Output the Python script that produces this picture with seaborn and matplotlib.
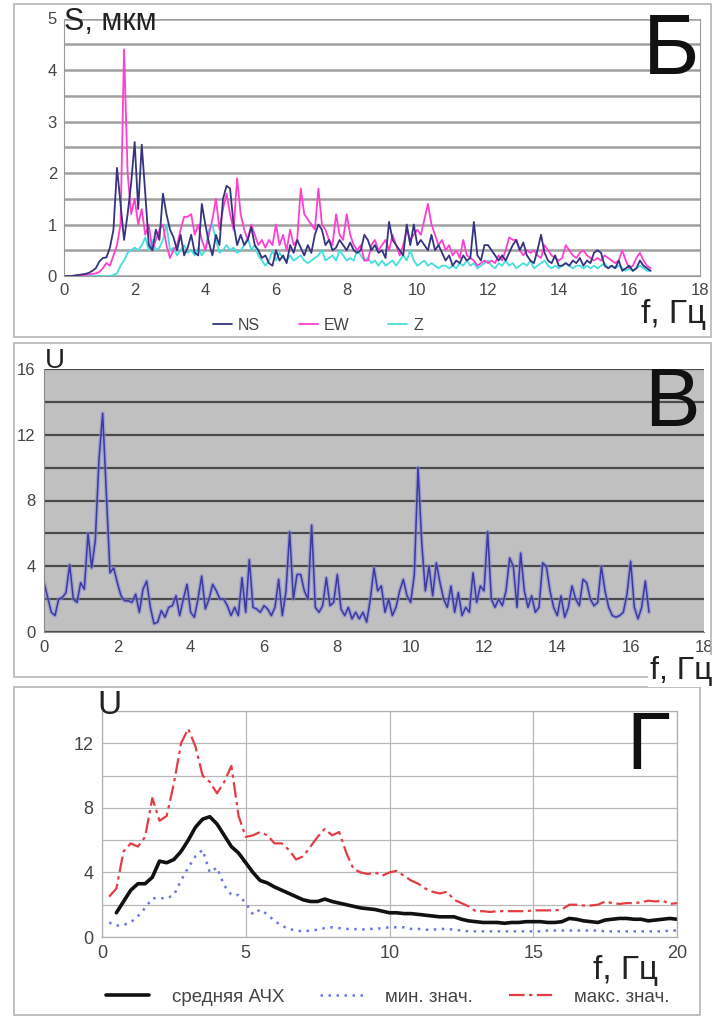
import numpy as np
import pandas as pd
import matplotlib
matplotlib.use("Agg")
import matplotlib.pyplot as plt
import seaborn as sns
from matplotlib.patches import Rectangle
from matplotlib.lines import Line2D
from matplotlib.ticker import MultipleLocator

sns.set_style("white")
plt.rcParams['font.family'] = ['Liberation Sans', 'DejaVu Sans']

# ---------------- Panel Б : spectra S (мкм), step 0.1 Hz from 0 ----------------
ns = [0, 0, 0, 0.01, 0.02, 0.03, 0.04, 0.06, 0.1, 0.15,
      0.28, 0.35, 0.36, 0.55, 0.9, 2.1, 1.4, 0.7, 1.2, 1.8,
      2.6, 1.3, 2.55, 1.6, 0.6, 0.5, 0.9, 0.7, 1.6, 1.2,
      0.9, 0.75, 0.5, 0.8, 0.4, 0.55, 0.8, 0.45, 0.4, 1.4,
      1.0, 0.65, 0.4, 0.8, 0.6, 1.5, 1.75, 1.7, 1.0, 0.6,
      0.8, 0.6, 0.7, 0.95, 0.6, 0.5, 0.35, 0.4, 0.25, 0.2,
      0.5, 0.3, 0.4, 0.25, 0.6, 0.45, 0.7, 0.55, 0.4, 0.6,
      0.45, 0.8, 1.0, 0.9, 0.6, 0.7, 0.5, 0.55, 0.7, 0.6,
      0.5, 0.65, 0.5, 0.45, 0.5, 0.8, 0.7, 0.5, 0.6, 0.45,
      0.5, 0.35, 1.05, 0.7, 0.6, 0.5, 0.4, 1.0, 0.6, 1.0,
      0.6, 0.7, 0.6, 0.5, 0.8, 0.5, 0.6, 0.45, 0.3, 0.4,
      0.2, 0.3, 0.25, 0.4, 0.3, 0.35, 1.05, 0.4, 0.3, 0.6,
      0.6, 0.5, 0.4, 0.3, 0.4, 0.3, 0.45, 0.6, 0.7, 0.5,
      0.65, 0.4, 0.3, 0.25, 0.5, 0.8, 0.45, 0.3, 0.25, 0.4,
      0.2, 0.2, 0.25, 0.2, 0.3, 0.25, 0.35, 0.2, 0.3, 0.25,
      0.45, 0.5, 0.45, 0.2, 0.15, 0.2, 0.15, 0.3, 0.1, 0.15,
      0.2, 0.1, 0.15, 0.3, 0.2, 0.15, 0.1]
ew = [0, 0, 0, 0, 0, 0.01, 0.02, 0.03, 0.04, 0.05,
      0.08, 0.15, 0.25, 0.2, 0.4, 0.6, 1.0, 4.4, 2.0, 1.2,
      1.5, 1.0, 1.3, 0.8, 1.0, 0.5, 0.7, 0.9, 1.0, 0.6,
      0.35, 0.5, 0.6, 0.9, 1.15, 1.15, 1.2, 0.8, 1.0, 0.7,
      0.5, 0.8, 1.1, 1.5, 0.9, 1.3, 1.6, 1.2, 0.9, 1.9,
      1.2, 0.9, 0.7, 1.0, 0.8, 0.6, 0.7, 0.55, 0.7, 0.6,
      1.0, 0.6, 0.8, 0.5, 0.9, 0.6, 0.7, 1.7, 1.2, 1.1,
      1.0, 0.9, 1.7, 1.0, 0.9, 0.7, 0.6, 1.2, 0.8, 0.7,
      1.2, 0.8, 0.6, 0.5, 0.6, 0.3, 0.3, 0.6, 0.7, 0.5,
      0.6, 0.7, 0.5, 0.8, 0.6, 0.4, 0.6, 0.9, 0.7, 0.8,
      0.9, 0.8, 1.1, 1.4, 1.0, 0.8, 0.6, 0.7, 0.5, 0.6,
      0.4, 0.5, 0.35, 0.7, 0.4, 0.35, 0.3, 0.2, 0.25, 0.3,
      0.25, 0.3, 0.25, 0.4, 0.3, 0.5, 0.75, 0.7, 0.7, 0.5,
      0.4, 0.5, 0.45, 0.5, 0.4, 0.35, 0.6, 0.5, 0.4, 0.35,
      0.3, 0.35, 0.6, 0.5, 0.4, 0.35, 0.45, 0.5, 0.4, 0.35,
      0.3, 0.35, 0.3, 0.4, 0.35, 0.3, 0.25, 0.3, 0.5, 0.3,
      0.15, 0.2, 0.35, 0.45, 0.3, 0.2, 0.15]
zc = [0, 0, 0, 0, 0, 0, 0, 0, 0, 0,
      0, 0, 0, 0, 0.02, 0.05, 0.2, 0.3, 0.45, 0.5,
      0.55, 0.5, 0.6, 0.75, 0.5, 0.7, 0.5, 0.55, 0.7, 1.0,
      0.5, 0.55, 0.4, 0.5, 0.6, 0.45, 0.5, 0.4, 0.55, 0.4,
      0.5, 0.9, 1.0, 0.7, 0.45, 0.5, 0.6, 0.5, 0.55, 0.45,
      0.5, 0.6, 0.75, 0.5, 0.6, 0.4, 0.3, 0.2, 0.3, 0.5,
      0.3, 0.45, 0.35, 0.3, 0.4, 0.3, 0.35, 0.4, 0.3, 0.25,
      0.3, 0.35, 0.4, 0.5, 0.3, 0.35, 0.4, 0.3, 0.5, 0.4,
      0.3, 0.35, 0.3, 0.5, 0.4, 0.3, 0.35, 0.25, 0.3, 0.2,
      0.3, 0.2, 0.25, 0.3, 0.2, 0.3, 0.4, 0.3, 0.5, 0.3,
      0.2, 0.25, 0.3, 0.2, 0.25, 0.2, 0.15, 0.2, 0.2, 0.15,
      0.2, 0.15, 0.25, 0.2, 0.3, 0.2, 0.25, 0.15, 0.2, 0.25,
      0.3, 0.2, 0.15, 0.25, 0.2, 0.3, 0.2, 0.25, 0.15, 0.2,
      0.25, 0.2, 0.3, 0.15, 0.2, 0.25, 0.3, 0.2, 0.15, 0.2,
      0.15, 0.2, 0.25, 0.2, 0.15, 0.2, 0.2, 0.15, 0.2, 0.15,
      0.2, 0.15, 0.2, 0.25, 0.15, 0.2, 0.15, 0.2, 0.15, 0.1,
      0.15, 0.1, 0.15, 0.2, 0.15, 0.1, 0.1]
b_labels = ["NS", "EW", "Z"]
b_colors = ["#34347f", "#ff3fd0", "#45dede"]

# ---------------- Panel В : U, step 0.1 Hz from 0 ----------------
u_v = [3.0, 2.1, 1.2, 1.0, 2.0, 2.1, 2.4, 4.1, 2.0, 1.8,
       3.0, 2.6, 6.0, 3.9, 5.6, 10.5, 13.3, 8.5, 3.6, 3.9,
       3.0, 2.2, 1.9, 1.9, 1.8, 2.3, 1.2, 2.6, 3.1, 1.5,
       0.5, 0.6, 1.3, 0.9, 1.5, 1.6, 2.2, 1.0, 2.0, 2.9,
       1.2, 0.9, 2.0, 3.4, 1.4, 2.0, 2.9, 2.5, 2.0, 2.0,
       1.6, 1.0, 1.5, 1.0, 3.3, 1.2, 4.4, 1.5, 1.4, 1.2,
       1.6, 1.4, 1.0, 1.5, 3.2, 1.0, 2.5, 6.1, 2.0, 3.5,
       3.5, 2.5, 2.0, 6.5, 1.5, 1.2, 1.6, 3.3, 1.6, 1.8,
       3.5, 1.4, 1.0, 1.5, 0.8, 1.2, 0.8, 1.2, 0.6, 2.0,
       3.9, 2.5, 2.8, 1.2, 2.0, 1.0, 1.5, 2.5, 3.2, 2.2,
       1.8, 3.5, 10.0, 5.5, 2.5, 4.0, 2.2, 4.2, 3.0, 2.0,
       1.5, 2.8, 1.2, 2.4, 1.0, 1.5, 1.2, 3.6, 1.8, 2.8,
       2.5, 6.1, 2.0, 1.5, 2.0, 1.6, 2.5, 4.5, 4.0, 1.5,
       4.8, 2.5, 1.5, 2.2, 1.2, 1.5, 4.2, 4.0, 2.5, 1.5,
       1.0, 2.2, 0.9, 1.5, 2.8, 2.0, 1.6, 3.2, 3.0, 2.0,
       1.6, 1.8, 4.0, 2.5, 1.5, 1.0, 0.9, 1.0, 1.2, 2.3,
       4.3, 1.5, 0.8, 1.5, 3.1, 1.2]

# ---------------- Panel Г : averaged response, step 0.25 Hz from 0.25 ----------------
g_mean = [np.nan, 1.5, 2.2, 2.9, 3.3, 3.3, 3.7, 4.7,
          4.6, 4.8, 5.3, 6.0, 6.8, 7.3, 7.45, 7.0,
          6.3, 5.6, 5.2, 4.6, 4.0, 3.5, 3.35, 3.1,
          2.9, 2.7, 2.5, 2.3, 2.2, 2.2, 2.35, 2.2,
          2.1, 2.0, 1.9, 1.8, 1.75, 1.7, 1.6, 1.5,
          1.5, 1.45, 1.45, 1.4, 1.35, 1.3, 1.25, 1.25,
          1.25, 1.1, 1.0, 0.95, 0.9, 0.9, 0.9, 0.85,
          0.9, 0.9, 0.95, 0.95, 0.95, 0.9, 0.9, 0.95,
          1.15, 1.1, 1.0, 0.95, 0.9, 1.05, 1.1, 1.15,
          1.15, 1.1, 1.1, 1.0, 1.05, 1.1, 1.15, 1.1]
g_min = [0.9, 0.7, 0.75, 0.9, 1.3, 1.8, 2.4, 2.4,
         2.4, 2.6, 3.5, 4.3, 5.0, 5.4, 4.0, 4.3,
         3.2, 2.6, 2.6, 2.1, 1.4, 1.7, 1.4, 1.0,
         0.7, 0.5, 0.4, 0.35, 0.4, 0.45, 0.55, 0.6,
         0.55, 0.5, 0.5, 0.45, 0.5, 0.5, 0.55, 0.6,
         0.6, 0.6, 0.5, 0.5, 0.45, 0.45, 0.5, 0.5,
         0.45, 0.4, 0.35, 0.35, 0.35, 0.35, 0.35, 0.35,
         0.35, 0.35, 0.35, 0.35, 0.35, 0.4, 0.4, 0.4,
         0.4, 0.4, 0.4, 0.4, 0.4, 0.35, 0.35, 0.35,
         0.35, 0.35, 0.35, 0.35, 0.35, 0.35, 0.4, 0.4]
g_max = [2.5, 3.0, 5.3, 5.8, 5.6, 6.2, 8.6, 7.2,
         7.5, 9.5, 12.0, 12.9, 11.8, 10.0, 9.6, 8.9,
         9.6, 10.6, 7.5, 6.2, 6.3, 6.5, 6.3, 5.8,
         5.8, 5.4, 4.8, 5.0, 5.6, 6.2, 6.7, 6.3,
         6.5, 5.2, 4.2, 4.0, 3.9, 4.0, 3.8, 4.0,
         4.1, 3.8, 3.5, 3.3, 3.0, 2.8, 2.7, 2.8,
         2.3, 2.1, 1.9, 1.6, 1.6, 1.55, 1.6, 1.6,
         1.6, 1.6, 1.6, 1.65, 1.65, 1.65, 1.65, 1.7,
         2.0, 2.0, 1.95, 1.95, 2.0, 2.2, 2.1, 2.05,
         2.1, 2.1, 2.15, 2.25, 2.2, 2.25, 2.05, 2.1]
g_labels = ["средняя АЧХ", "мин. знач.", "макс. знач."]

freq_b = np.round(np.arange(len(ns)) * 0.1, 2)
freq_v = np.round(np.arange(len(u_v)) * 0.1, 2)
freq_g = np.round(0.25 + np.arange(len(g_mean)) * 0.25, 2)

W, H = 712, 1019
fig = plt.figure(figsize=(W / 100, H / 100), dpi=100)
fig.patch.set_facecolor("white")

def fx(px):
    return px / W

def fy(py):
    return 1 - py / H

def box(x0, y0, x1, y1):
    fig.patches.append(Rectangle((fx(x0), fy(y1)), fx(x1) - fx(x0), fy(y0) - fy(y1),
                                 transform=fig.transFigure, fill=False,
                                 edgecolor="#b5b5b5", lw=1.2, zorder=0))

box(14, 4, 711, 337)
box(14, 343, 711, 677)
box(14, 687, 700, 1015)

tick_col = "#454545"

# ---------------- Б ----------------
ax1 = fig.add_axes([fx(64), fy(276), fx(700) - fx(64), (276 - 18.5) / H])
dfb = pd.DataFrame({"f": freq_b, "NS": ns, "EW": ew, "Z": zc})
for lab, col in [("Z", b_colors[2]), ("EW", b_colors[1]), ("NS", b_colors[0])]:
    sns.lineplot(data=dfb, x="f", y=lab, ax=ax1, color=col, lw=1.3, legend=False)
ax1.set_xlim(0, 18)
ax1.set_ylim(0, 5)
ax1.set_xticks(range(0, 19, 2))
ax1.set_yticks(range(0, 6))
ax1.yaxis.set_minor_locator(MultipleLocator(0.5))
ax1.yaxis.grid(True, which="both", color="#a0a0a0", lw=1.8)
ax1.xaxis.grid(False)
ax1.set_axisbelow(True)
ax1.set_xlabel("")
ax1.set_ylabel("")
ax1.spines["top"].set_visible(False)
for s in ["left", "bottom", "right"]:
    ax1.spines[s].set_color("#9a9a9a")
ax1.tick_params(axis="both", labelsize=12, colors=tick_col, length=3, width=0.8, pad=2)
ax1.tick_params(axis="y", which="minor", length=0)
handles = [Line2D([], [], color=c, lw=1.3) for c in b_colors]
ax1.legend(handles, b_labels, loc="center", bbox_to_anchor=(fx(318), fy(325)),
           bbox_transform=fig.transFigure, ncol=3, frameon=False, fontsize=11.5,
           handlelength=1.2, handletextpad=0.4, columnspacing=2.4, labelcolor=tick_col)
fig.text(fx(64), fy(22), "S, мкм", fontsize=22, va="center", ha="left", color="#222222")
fig.text(fx(700), fy(52), "Б", fontsize=62, va="center", ha="right", color="#111111")
fig.text(fx(706), fy(314), "f, Гц", fontsize=24, va="center", ha="right", color="#222222")

# ---------------- В ----------------
ax2 = fig.add_axes([fx(44), fy(632), fx(704) - fx(44), (632 - 369) / H])
ax2.set_facecolor("#c0c0c0")
dfv = pd.DataFrame({"f": freq_v, "U": u_v})
sns.lineplot(data=dfv, x="f", y="U", ax=ax2, color="#8c8cd6", lw=3.0, alpha=0.6, legend=False)
sns.lineplot(data=dfv, x="f", y="U", ax=ax2, color="#3a3aa0", lw=1.1, legend=False)
ax2.set_xlim(0, 18)
ax2.set_ylim(0, 16)
ax2.set_xticks(range(0, 19, 2))
ax2.set_yticks([0, 4, 8, 12, 16])
ax2.yaxis.set_minor_locator(MultipleLocator(2))
ax2.yaxis.grid(True, which="both", color="#4a4a4a", lw=1.6)
ax2.xaxis.grid(False)
ax2.set_axisbelow(True)
ax2.set_xlabel("")
ax2.set_ylabel("")
ax2.spines["top"].set_visible(False)
ax2.spines["right"].set_visible(False)
for s in ["left", "bottom"]:
    ax2.spines[s].set_color("#8a8a8a")
ax2.tick_params(axis="both", labelsize=12, colors=tick_col, length=3, width=0.8, pad=3)
ax2.tick_params(axis="y", which="minor", length=0)
fig.text(fx(45), fy(361), "U", fontsize=20, va="center", ha="left", color="#222222")
fig.text(fx(700), fy(404), "В", fontsize=60, va="center", ha="right", color="#111111")
fig.text(fx(712), fy(671), "f, Гц", fontsize=23, va="center", ha="right", color="#222222",
         bbox=dict(facecolor="white", edgecolor="none", pad=1))

# ---------------- Г ----------------
ax3 = fig.add_axes([fx(102), fy(937), fx(677) - fx(102), (937 - 711) / H])
dfg = pd.DataFrame({"f": freq_g, "mean": g_mean, "min": g_min, "max": g_max})
sns.lineplot(data=dfg, x="f", y="min", ax=ax3, color="#6a78e0", lw=1.8,
             linestyle=(0, (1, 2.2)), legend=False)
sns.lineplot(data=dfg, x="f", y="max", ax=ax3, color="#e53c44", lw=1.6,
             linestyle=(0, (7, 2, 1.5, 2)), legend=False)
sns.lineplot(data=dfg, x="f", y="mean", ax=ax3, color="#111111", lw=2.6, legend=False)
ax3.set_xlim(0, 20)
ax3.set_ylim(0, 14)
ax3.set_xticks([0, 5, 10, 15, 20])
ax3.set_yticks([0, 4, 8, 12])
ax3.yaxis.set_minor_locator(MultipleLocator(2))
ax3.yaxis.grid(True, which="both", color="#b8b8b8", lw=0.9)
ax3.xaxis.grid(True, which="major", color="#b8b8b8", lw=0.9)
ax3.set_axisbelow(True)
ax3.set_xlabel("")
ax3.set_ylabel("")
for s in ["left", "bottom", "right", "top"]:
    ax3.spines[s].set_color("#b0b0b0")
    ax3.spines[s].set_linewidth(0.9)
ax3.tick_params(axis="both", labelsize=13, colors=tick_col, length=3, width=0.8, pad=3)
ax3.tick_params(axis="y", which="minor", length=0)
gh = [Line2D([], [], color="#111111", lw=2.6),
      Line2D([], [], color="#6a78e0", lw=1.8, linestyle=(0, (1, 2.2))),
      Line2D([], [], color="#e53c44", lw=1.6, linestyle=(0, (7, 2, 1.5, 2)))]
ax3.legend(gh, g_labels, loc="center", bbox_to_anchor=(fx(388), fy(997)),
           bbox_transform=fig.transFigure, ncol=3, frameon=False, fontsize=13.5,
           handlelength=2.3, handletextpad=1.2, columnspacing=1.9, labelcolor=tick_col)
fig.text(fx(97), fy(706), "U", fontsize=24, va="center", ha="left", color="#222222")
fig.text(fx(670), fy(748), "Г", fontsize=58, va="center", ha="right", color="#111111")
fig.text(fx(658), fy(970), "f, Гц", fontsize=24, va="center", ha="right", color="#222222")

fig.savefig("out.png", dpi=100)
